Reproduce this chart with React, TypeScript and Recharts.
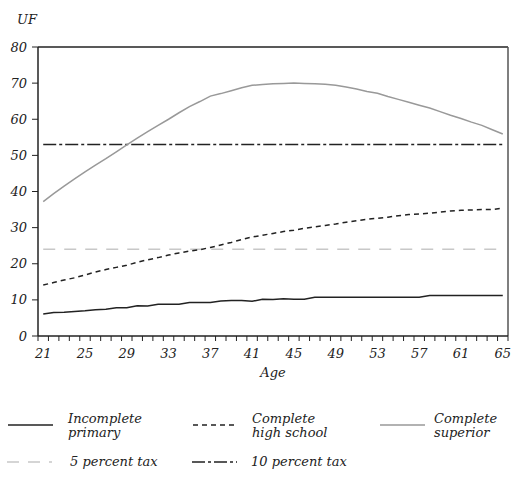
import { LineChart, Line, XAxis, YAxis, ReferenceLine } from "recharts";

const AGES = [
  21, 22, 23, 24, 25, 26, 27, 28, 29, 30, 31, 32, 33, 34, 35, 36, 37, 38, 39, 40, 41, 42, 43,
  44, 45, 46, 47, 48, 49, 50, 51, 52, 53, 54, 55, 56, 57, 58, 59, 60, 61, 62, 63, 64, 65,
];
const INCOMPLETE_PRIMARY = [
  6.1, 6.5, 6.6, 6.8, 7.0, 7.3, 7.4, 7.8, 7.8, 8.4, 8.3, 8.8, 8.8, 8.8, 9.3, 9.3, 9.3, 9.7, 9.8,
  9.8, 9.6, 10.2, 10.1, 10.3, 10.2, 10.2, 10.7, 10.7, 10.7, 10.7, 10.7, 10.7, 10.7, 10.7, 10.7,
  10.7, 10.7, 11.2, 11.2, 11.2, 11.2, 11.2, 11.2, 11.2, 11.2,
];
const COMPLETE_HIGH_SCHOOL = [
  14.1, 14.8, 15.5, 16.1, 16.9, 17.7, 18.4, 19.0, 19.6, 20.4, 21.1, 21.7, 22.4, 23.0, 23.5, 23.9,
  24.5, 25.2, 25.9, 26.7, 27.4, 27.9, 28.4, 28.9, 29.3, 29.8, 30.2, 30.6, 31.0, 31.5, 31.9, 32.3,
  32.6, 32.9, 33.3, 33.6, 33.8, 34.0, 34.3, 34.6, 34.8, 34.9, 35.0, 35.0, 35.4,
];
const COMPLETE_SUPERIOR = [
  37.2, 39.4, 41.5, 43.5, 45.4, 47.3, 49.1, 51.0, 52.9, 54.8, 56.6, 58.3, 60.0, 61.8, 63.5, 64.9,
  66.4, 67.1, 67.9, 68.7, 69.4, 69.6, 69.8, 69.9, 70.0, 69.9, 69.8, 69.7, 69.4, 68.9, 68.4, 67.7,
  67.2, 66.3, 65.5, 64.7, 63.9, 63.1, 62.1, 61.1, 60.2, 59.2, 58.3, 57.1, 55.9,
];
const TAX_5 = 24;
const TAX_10 = 53;
const AGE_LABELS = [21, 25, 29, 33, 37, 41, 45, 49, 53, 57, 61, 65];
const Y_TICKS = [0, 10, 20, 30, 40, 50, 60, 70, 80];

const data = AGES.map((age, i) => ({
  age,
  primary: INCOMPLETE_PRIMARY[i],
  highSchool: COMPLETE_HIGH_SCHOOL[i],
  superior: COMPLETE_SUPERIOR[i],
}));

// minor ticks sit on the boundaries between ages
const MINOR_TICKS = AGES.map((a) => a - 0.5).concat(AGES[AGES.length - 1] + 0.5);
const X_TICKS = [...MINOR_TICKS, ...AGE_LABELS].sort((a, b) => a - b);

const FONT = '"DejaVu Serif", "Liberation Serif", serif';
const INK = "#222";
const textStyle = { fontFamily: FONT, fontStyle: "italic" as const, fontSize: 13 };

function AgeTick(props: any) {
  const { x, y, payload } = props;
  const v = payload.value;
  if (Number.isInteger(v)) {
    return (
      <text x={x} y={y + 22} textAnchor="middle" style={textStyle} fill={INK}>
        {v}
      </text>
    );
  }
  return <line x1={x} y1={y} x2={x} y2={y + 5} stroke={INK} strokeWidth={1} />;
}

function UfTick(props: any) {
  const { x, y, payload } = props;
  return (
    <text x={x} y={y} dy={4.5} textAnchor="end" style={textStyle} fill={INK}>
      {payload.value}
    </text>
  );
}

const LEGEND = [
  { lines: ["Incomplete", "primary"], x: 8, tx: 68, y: 425, stroke: INK, dash: undefined },
  { lines: ["Complete", "high school"], x: 193, tx: 252, y: 425, stroke: INK, dash: "5 4" },
  { lines: ["Complete", "superior"], x: 380, tx: 434, y: 425, stroke: "#999", dash: undefined },
  { lines: ["5 percent tax"], x: 7, tx: 70, y: 462, stroke: "#c8c8c8", dash: "12 9" },
  { lines: ["10 percent tax"], x: 192, tx: 251, y: 462, stroke: INK, dash: "13 3 3 3" },
];

export default function App() {
  return (
    <div style={{ position: "absolute", left: 0, top: 0, width: 512, height: 483, background: "#fff", fontFamily: FONT }}>
      <LineChart width={512} height={400} data={data} margin={{ top: 47, right: 4, left: 0, bottom: 0 }}>
        <XAxis
          dataKey="age"
          type="number"
          domain={[20.5, 65.5]}
          ticks={X_TICKS}
          interval={0}
          tickSize={0}
          tickMargin={0}
          tick={<AgeTick />}
          height={64}
          axisLine={{ stroke: INK, strokeWidth: 1.5 }}
        />
        <YAxis
          type="number"
          domain={[0, 80]}
          ticks={Y_TICKS}
          width={38}
          tickSize={6}
          tickMargin={5}
          tickLine={{ stroke: INK }}
          axisLine={{ stroke: INK, strokeWidth: 1.5 }}
          tick={<UfTick />}
        />
        <ReferenceLine y={80} stroke={INK} strokeWidth={1.5} />
        <ReferenceLine x={65.5} stroke="#555" strokeWidth={1.5} />
        <ReferenceLine
          segment={[{ x: 21, y: TAX_5 }, { x: 65, y: TAX_5 }]}
          stroke="#c8c8c8"
          strokeWidth={1.5}
          strokeDasharray="12 9"
        />
        <ReferenceLine
          segment={[{ x: 21, y: TAX_10 }, { x: 65, y: TAX_10 }]}
          stroke={INK}
          strokeWidth={1.5}
          strokeDasharray="13 3 3 3"
        />
        <Line type="linear" dataKey="superior" stroke="#999" strokeWidth={1.5} dot={false} isAnimationActive={false} />
        <Line type="linear" dataKey="highSchool" stroke={INK} strokeWidth={1.5} strokeDasharray="5 4" dot={false} isAnimationActive={false} />
        <Line type="linear" dataKey="primary" stroke={INK} strokeWidth={1.5} dot={false} isAnimationActive={false} />
      </LineChart>
      <svg width={512} height={483} style={{ position: "absolute", left: 0, top: 0, pointerEvents: "none" }}>
        <g fill={INK} style={textStyle}>
          <text x={17} y={24}>UF</text>
          <text x={273} y={377} textAnchor="middle">Age</text>
          {LEGEND.map((item) => (
            <g key={item.lines.join(" ")}>
              <line
                x1={item.x}
                x2={item.x + 45}
                y1={item.y}
                y2={item.y}
                stroke={item.stroke}
                strokeWidth={1.5}
                strokeDasharray={item.dash}
              />
              {item.lines.map((t, k) => (
                <text key={t} x={item.tx} y={(item.lines.length === 1 ? item.y + 4 : item.y - 2) + k * 14}>
                  {t}
                </text>
              ))}
            </g>
          ))}
        </g>
      </svg>
    </div>
  );
}
